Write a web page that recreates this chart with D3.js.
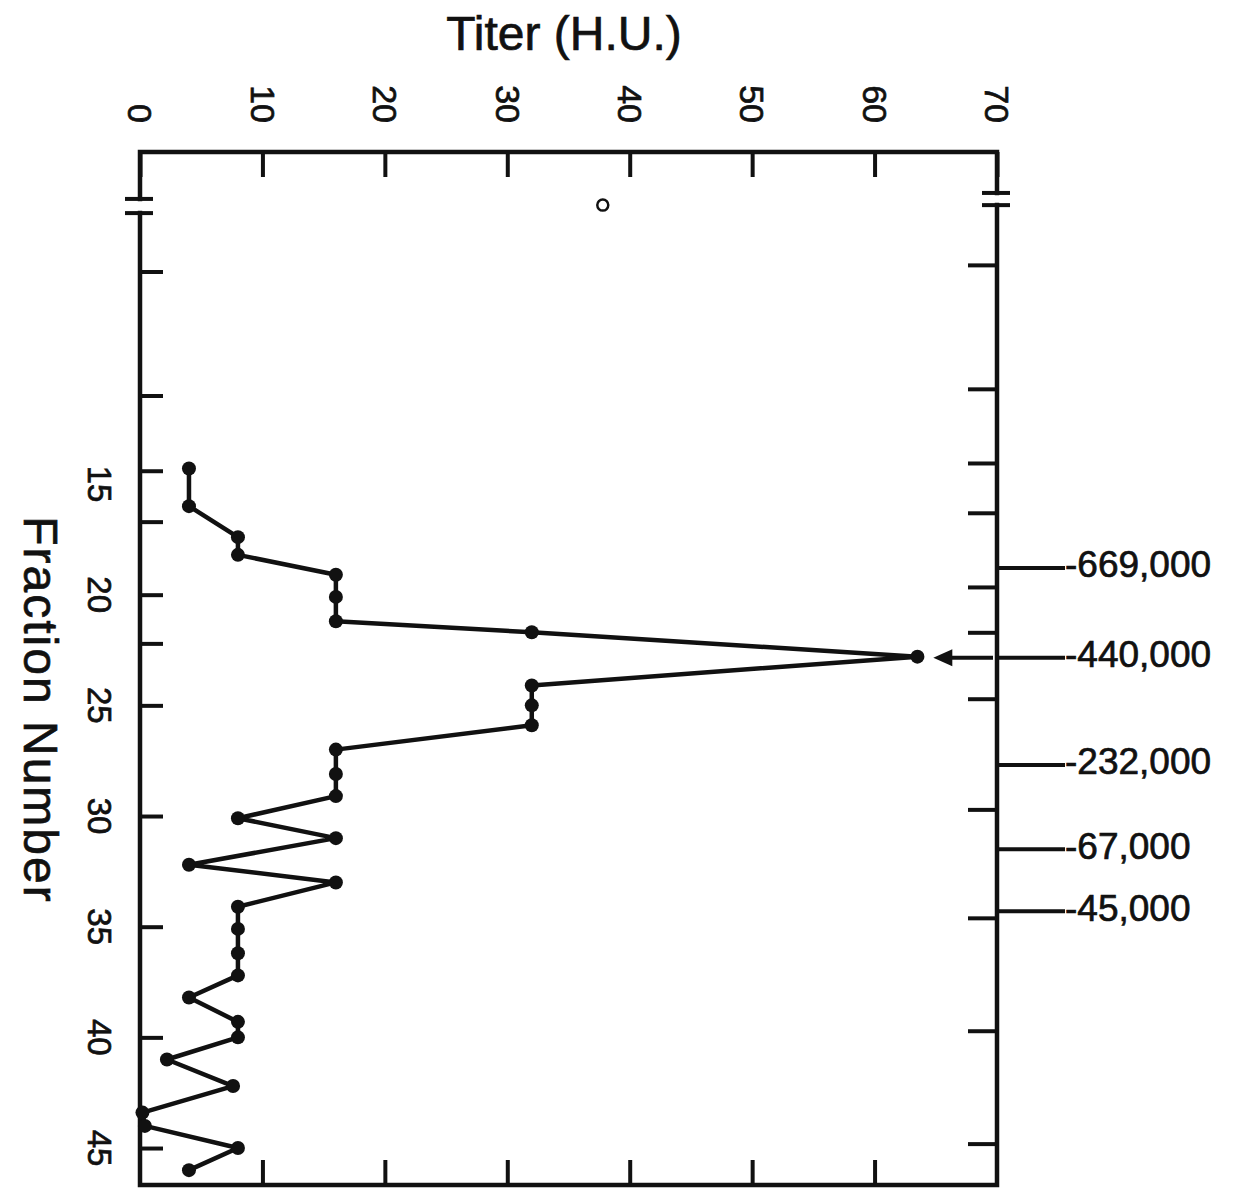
<!DOCTYPE html>
<html>
<head>
    <title>Titer vs Fraction Number</title>
    <script src="https://cdnjs.cloudflare.com/ajax/libs/d3/7.8.5/d3.min.js"></script>
    <style>
        body {
            background: #fff;
            margin: 0;
            overflow: hidden;
        }
        svg text {
            font-family: "Liberation Sans", Arial, Helvetica, sans-serif;
            fill: #111;
            stroke: #111;
            stroke-width: 0.7px;
        }
        .frame {
            stroke: #111;
            stroke-width: 4.5px;
            fill: none;
            stroke-linecap: square;
        }
        .tick-line {
            stroke: #111;
            stroke-width: 4px;
        }
        .trace {
            fill: none;
            stroke: #111;
            stroke-width: 4.5px;
            stroke-linejoin: round;
        }
    </style>
</head>
<body>
    <svg id="chart"></svg>

    <script>
        // values
        const titerTicks = [0, 10, 20, 30, 40, 50, 60, 70];
        const fractionLabels = [15, 20, 25, 30, 35, 40, 45];
        const leftTicks = [5.4, 11, 14.4, 16.7, 20, 22.2, 25, 30, 35, 40, 45];
        const rightTicks = [5.1, 10.7, 14.05, 16.3, 19.65, 21.7, 24.7, 29.7, 34.6, 39.7, 44.8];

        const fractions = [14.3, 16.0, 17.4, 18.2, 19.1, 20.1, 21.2, 21.7, 22.8, 24.1, 25.0, 25.9,
            27.0, 28.1, 29.1, 30.1, 31.0, 32.2, 33.0, 34.1, 35.1, 36.2, 37.2, 38.2, 39.3, 40.0,
            41.0, 42.2, 43.4, 44.0, 45.0, 46.0];
        const titers = [4, 4, 8, 8, 16, 16, 16, 32, 63.5, 32, 32, 32,
            16, 16, 16, 8, 16, 4, 16, 8, 8, 8, 8, 4, 8, 8,
            2.2, 7.6, 0.2, 0.4, 8, 4];

        const mwLabels = ["-669,000", "-440,000", "-232,000", "-67,000", "-45,000"];
        const mwFractions = [18.8, 22.85, 27.7, 31.5, 34.3];
        const arrowFraction = 22.85;
        const arrowTiter = 64.8;

        const openMark = {titer: 37.8, fraction: 2.4};

        const width = 1241, height = 1195;
        const svg = d3.select("#chart").attr("width", width).attr("height", height);

        const x = d3.scaleLinear().domain([0, 70]).range([140, 997]);
        const y = d3.scaleLinear().domain([0, 46.67]).range([152, 1185]);

        // titer axis across the top
        const topAxis = svg.append("g")
            .attr("transform", `translate(0,${y(0)})`)
            .call(d3.axisTop(x).tickValues(titerTicks).tickSize(-25).tickSizeOuter(0).tickFormat(d3.format("d")));
        topAxis.select(".domain").remove();
        topAxis.selectAll(".tick line").attr("class", "tick-line").attr("stroke", null);
        topAxis.selectAll(".tick text")
            .attr("fill", null)
            .attr("font-size", 34)
            .attr("text-anchor", "end")
            .attr("y", 0)
            .attr("dy", "0.36em")
            .attr("transform", "translate(0,-29) rotate(90)");

        // mirrored ticks along the bottom
        const bottomAxis = svg.append("g")
            .attr("transform", `translate(0,${y.range()[1]})`)
            .call(d3.axisBottom(x).tickValues(titerTicks.slice(1, -1)).tickSize(-25).tickSizeOuter(0).tickFormat(""));
        bottomAxis.select(".domain").remove();
        bottomAxis.selectAll(".tick line").attr("class", "tick-line").attr("stroke", null);

        // fraction ticks on the left and right
        const leftAxis = svg.append("g")
            .attr("transform", `translate(${x(0)},0)`)
            .call(d3.axisLeft(y).tickValues(leftTicks).tickSize(-23).tickFormat(""));
        leftAxis.select(".domain").remove();
        leftAxis.selectAll(".tick line").attr("class", "tick-line").attr("stroke", null);

        const rightAxis = svg.append("g")
            .attr("transform", `translate(${x(70)},0)`)
            .call(d3.axisRight(y).tickValues(rightTicks).tickSize(-29).tickFormat(""));
        rightAxis.select(".domain").remove();
        rightAxis.selectAll(".tick line").attr("class", "tick-line").attr("stroke", null);

        // frame with axis breaks near the top of both fraction axes
        const x0 = x(0), x1 = x(70), yTop = y(0), yBot = y.range()[1];
        const breaksL = [2.12, 2.76], breaksR = [1.85, 2.4];
        const frame = svg.append("g");
        frame.append("path").attr("class", "frame")
            .attr("d", `M${x0},${y(breaksL[0])}V${yTop}H${x1}V${y(breaksR[0])}`);
        frame.append("path").attr("class", "frame")
            .attr("d", `M${x0},${y(breaksL[1])}V${yBot}H${x1}V${y(breaksR[1])}`);
        [[x0, breaksL], [x1, breaksR]].forEach(([bx, br]) => {
            br.forEach(b => {
                frame.append("line").attr("class", "tick-line")
                    .attr("x1", bx - 15).attr("x2", bx + 13)
                    .attr("y1", y(b)).attr("y2", y(b));
            });
        });

        // fraction tick labels
        svg.append("g").selectAll("text")
            .data(fractionLabels)
            .enter().append("text")
            .attr("font-size", 33)
            .attr("text-anchor", "middle")
            .attr("transform", d => `translate(88,${y(d)}) rotate(90)`)
            .text(d => d);

        // axis titles
        svg.append("text")
            .attr("x", 564).attr("y", 50)
            .attr("font-size", 48)
            .attr("text-anchor", "middle")
            .text("Titer (H.U.)");

        svg.append("text")
            .attr("font-size", 48)
            .attr("text-anchor", "middle")
            .attr("letter-spacing", 2)
            .attr("transform", "translate(24,710) rotate(90)")
            .text("Fraction Number");

        // molecular weight markers on the right
        const mw = svg.append("g");
        mw.selectAll("line")
            .data(mwFractions)
            .enter().append("line")
            .attr("class", "tick-line")
            .attr("x1", x1).attr("x2", x1 + 68)
            .attr("y1", d => y(d)).attr("y2", d => y(d));
        mw.selectAll("text")
            .data(mwLabels)
            .enter().append("text")
            .attr("font-size", 37)
            .attr("x", x1 + 68)
            .attr("y", (d, i) => y(mwFractions[i]) - 4)
            .attr("dy", "0.36em")
            .text(d => d);

        // arrow pointing at the peak
        const ay = y(arrowFraction), ax = x(arrowTiter);
        svg.append("line").attr("class", "tick-line")
            .attr("x1", ax + 14).attr("x2", x1 - 4)
            .attr("y1", ay).attr("y2", ay);
        svg.append("path")
            .attr("d", `M${ax},${ay}L${ax + 19},${ay - 8.5}L${ax + 19},${ay + 8.5}Z`)
            .attr("fill", "#111");

        // titer trace
        const pts = fractions.map((f, i) => ({f: f, t: titers[i]}));
        svg.append("path")
            .datum(pts)
            .attr("class", "trace")
            .attr("d", d3.line().x(d => x(d.t)).y(d => y(d.f)));
        svg.append("g").selectAll("circle")
            .data(pts)
            .enter().append("circle")
            .attr("cx", d => x(d.t))
            .attr("cy", d => y(d.f))
            .attr("r", 7)
            .attr("fill", "#111");

        // small open circle near the top
        svg.append("circle")
            .attr("cx", x(openMark.titer))
            .attr("cy", y(openMark.fraction))
            .attr("r", 5.5)
            .attr("fill", "none")
            .attr("stroke", "#111")
            .attr("stroke-width", 2.5);
    </script>
</body>
</html>
